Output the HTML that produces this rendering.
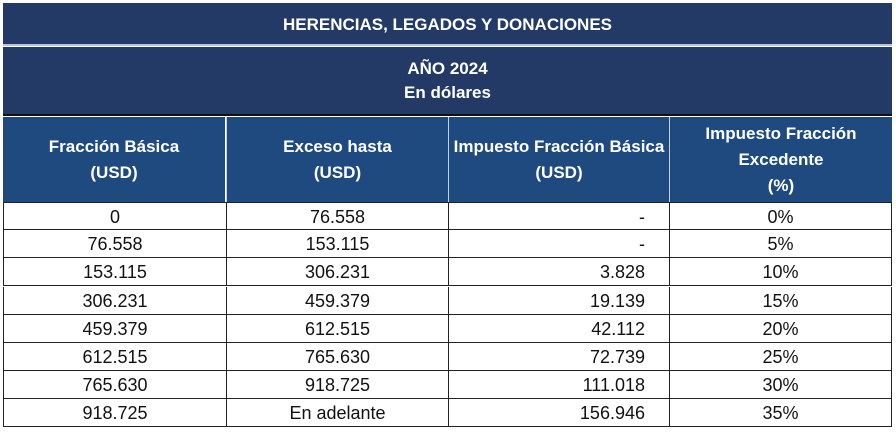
<!DOCTYPE html>
<html><head><meta charset="utf-8"><style>
body{margin:0;width:896px;height:432px;background:#fff;position:relative;overflow:hidden;font-family:"Liberation Sans",sans-serif}
.a{position:absolute;box-sizing:border-box}
.t{left:3px;width:889px;background:#243a66;color:#fff;font-weight:bold;text-align:center;font-size:17px}
.h{background:#1f4a80;color:#fff;font-weight:bold;text-align:center;font-size:17px;line-height:26px;display:flex;flex-direction:column;justify-content:center;top:117px;height:85px}
.c{font-size:18px;color:#111;line-height:28px;height:28px;border:1px solid #222;border-top:none}
</style></head><body>
<div class="a t" style="top:3px;height:43px;line-height:43px;border-bottom:2px solid #b9c3d6">HERENCIAS, LEGADOS Y DONACIONES</div>
<div class="a t" style="top:47px;height:69px;border-bottom:2px solid #111;padding-top:10px;line-height:24px">AÑO 2024<br>En dólares</div>
<div class="a h" style="left:3px;width:222px">Fracción Básica<br>(USD)</div>
<div class="a h" style="left:226px;width:222px;border-left:1px solid #c8d0dc">Exceso hasta<br>(USD)</div>
<div class="a h" style="left:448px;width:221px;border-left:1px solid #c8d0dc">Impuesto Fracción Básica<br>(USD)</div>
<div class="a h" style="left:669px;width:223px;border-left:1px solid #c8d0dc">Impuesto Fracción<br>Excedente<br>(%)</div>
<div id="rows"></div>
<script>
var d=[["0","76.558","-","0%"],["76.558","153.115","-","5%"],["153.115","306.231","3.828","10%"],["306.231","459.379","19.139","15%"],["459.379","612.515","42.112","20%"],["612.515","765.630","72.739","25%"],["765.630","918.725","111.018","30%"],["918.725","En adelante","156.946","35%"]];
var x=[3,226,448,669,891],h="";
d.forEach(function(r,i){var y=202+i*28.2;r.forEach(function(v,j){
var al=j==2?"text-align:right;padding-right:24px":"text-align:center";
h+='<div class="a c" style="top:'+y+'px;left:'+x[j]+'px;width:'+(x[j+1]-x[j]+1)+'px;'+al+(i==0?';border-top:1px solid #222':'')+'">'+v+'</div>';});});
document.getElementById("rows").innerHTML=h;
</script>
</body></html>
